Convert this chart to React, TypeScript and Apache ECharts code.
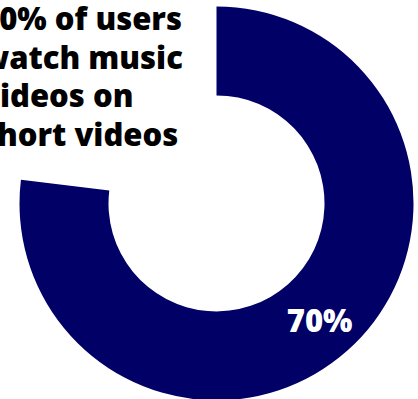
import React, { useEffect, useRef } from "react";
import * as echarts from "echarts";

const categories = ["Watch music videos on short videos", "Other"];
const values = [70, 21];
const labels = ["70%", ""];
const titleLines = ["70% of users", "watch music", "videos on", "short videos"];

export default function App() {
  const ref = useRef<HTMLDivElement>(null);
  useEffect(() => {
    const chart = echarts.init(ref.current!, undefined, { renderer: "svg" });
    chart.setOption({
      animation: false,
      series: [
        {
          type: "pie",
          center: [216.5, 203.4],
          radius: [108, 197],
          startAngle: 90,
          clockwise: true,
          avoidLabelOverlap: false,
          silent: true,
          data: categories.map((name, i) => ({
            name,
            value: values[i],
            itemStyle: { color: i === 0 ? "#000066" : "rgba(0,0,0,0)" },
            label: {
              show: i === 0,
              position: "inside",
              formatter: labels[i],
              color: "#ffffff",
              fontSize: 31,
              fontWeight: 800,
              fontFamily: "Open Sans",
            },
          })),
          labelLine: { show: false },
        },
      ],
      graphic: [
        {
          type: "text",
          x: -19,
          y: -1,
          style: {
            text: titleLines.join("\n"),
            fontSize: 31,
            fontWeight: 800,
            fontFamily: "Open Sans",
            lineHeight: 38.5,
            fill: "#000000",
            align: "left",
            verticalAlign: "top",
          },
        },
      ],
    });
    return () => chart.dispose();
  }, []);
  return (
    <div
      ref={ref}
      style={{ position: "fixed", left: 0, top: 0, width: 418, height: 399, background: "#ffffff" }}
    />
  );
}
